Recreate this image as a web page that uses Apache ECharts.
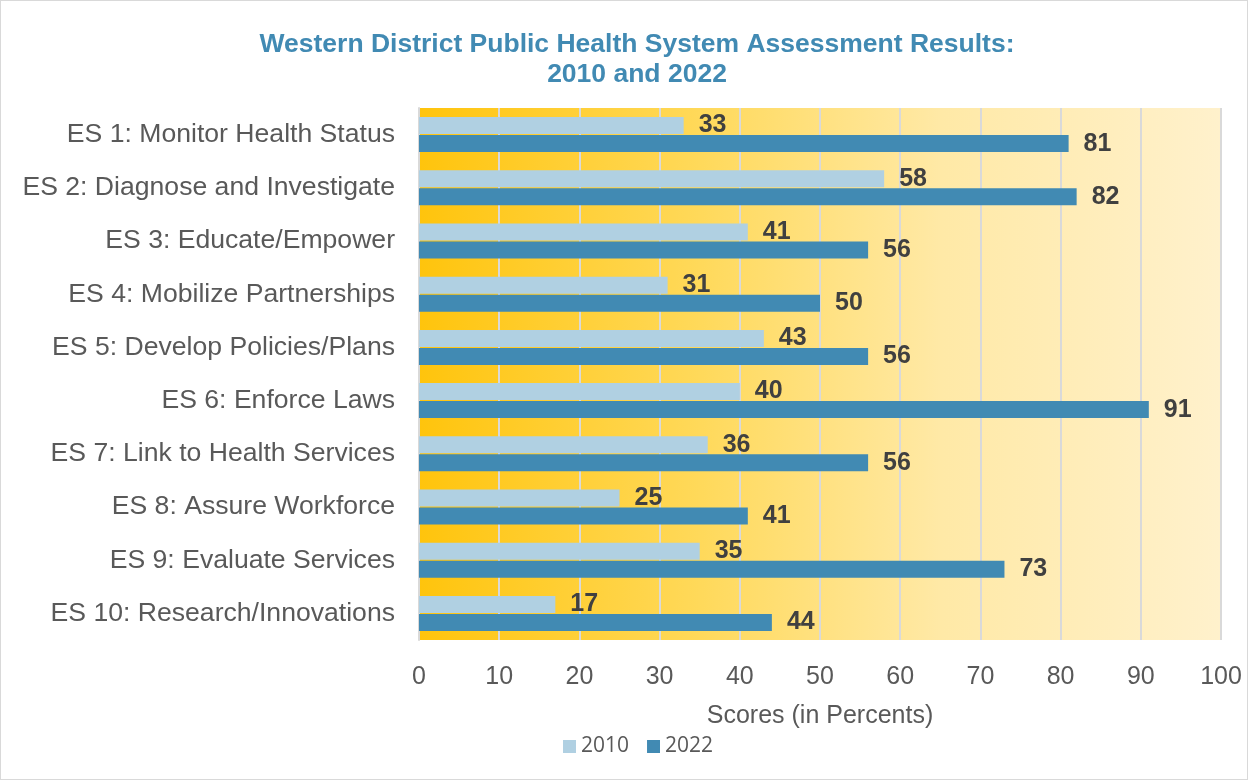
<!DOCTYPE html>
<html>
<head>
<meta charset="utf-8">
<script src="https://cdn.jsdelivr.net/npm/echarts@6/dist/echarts.min.js"></script>
<style>
  html, body { margin: 0; padding: 0; background: #fff; }
  #chart { width: 1246px; height: 778px; border: 1px solid #d9d9d9; }
</style>
</head>
<body>
<div id="chart"></div>
<script>
// categories, top to bottom
var categories = [
  'ES 1: Monitor Health Status',
  'ES 2: Diagnose and Investigate',
  'ES 3: Educate/Empower',
  'ES 4: Mobilize Partnerships',
  'ES 5: Develop Policies/Plans',
  'ES 6: Enforce Laws',
  'ES 7: Link to Health Services',
  'ES 8: Assure Workforce',
  'ES 9: Evaluate Services',
  'ES 10: Research/Innovations'
];
var scores2010 = [33, 58, 41, 31, 43, 40, 36, 25, 35, 17];
var scores2022 = [81, 82, 56, 50, 56, 91, 56, 41, 73, 44];

var myChart = echarts.init(document.getElementById('chart'));

var font = 'Liberation Sans, Arial, sans-serif';
var labelStyle = {
  show: true,
  position: 'right',
  distance: 15,
  fontSize: 25,
  fontWeight: 'bold',
  color: '#404040',
  fontFamily: font
};

var option = {
  animation: false,
  title: {
    text: 'Western District Public Health System Assessment Results:\n2010 and 2022',
    left: 631,
    textAlign: 'center',
    top: 24,
    textStyle: {
      fontSize: 26.5,
      fontWeight: 'bold',
      color: '#418ab3',
      lineHeight: 30,
      fontFamily: font
    }
  },
  legend: {
    bottom: 17,
    left: 557,
    itemWidth: 13,
    itemHeight: 13,
    itemGap: 18,
    icon: 'rect',
    textStyle: { fontSize: 21, color: '#595959', fontFamily: 'Open Sans, sans-serif' },
    data: ['2010', '2022']
  },
  grid: {
    left: 418,
    right: 26,
    top: 107,
    bottom: 139,
    show: true,
    borderWidth: 0,
    backgroundColor: new echarts.graphic.LinearGradient(0, 0, 1, 0, [
      { offset: 0, color: '#ffc40c' },
      { offset: 0.35, color: '#ffd95a' },
      { offset: 0.65, color: '#ffe9a6' },
      { offset: 1, color: '#fff1cc' }
    ])
  },
  xAxis: {
    type: 'value',
    min: 0,
    max: 100,
    interval: 10,
    name: 'Scores (in Percents)',
    nameLocation: 'middle',
    nameGap: 64,
    nameTextStyle: { fontSize: 25, color: '#595959', fontFamily: font },
    axisLine: { show: false },
    axisTick: { show: false },
    axisLabel: { fontSize: 25, color: '#595959', margin: 25, fontFamily: font },
    splitLine: { lineStyle: { color: '#d9d9d9', width: 2 } }
  },
  yAxis: {
    type: 'category',
    inverse: true,
    data: categories,
    axisLine: { lineStyle: { color: '#d9d9d9', width: 2 } },
    axisTick: { show: false },
    axisLabel: { fontSize: 26.6, color: '#595959', margin: 24, fontFamily: font }
  },
  series: [
    {
      name: '2010',
      type: 'bar',
      data: scores2010,
      barWidth: 17,
      barGap: '6%',
      itemStyle: { color: '#b0d0e2' },
      label: labelStyle
    },
    {
      name: '2022',
      type: 'bar',
      data: scores2022,
      barWidth: 17,
      itemStyle: { color: '#418ab3' },
      label: labelStyle
    }
  ]
};

myChart.setOption(option);
</script>
</body>
</html>
